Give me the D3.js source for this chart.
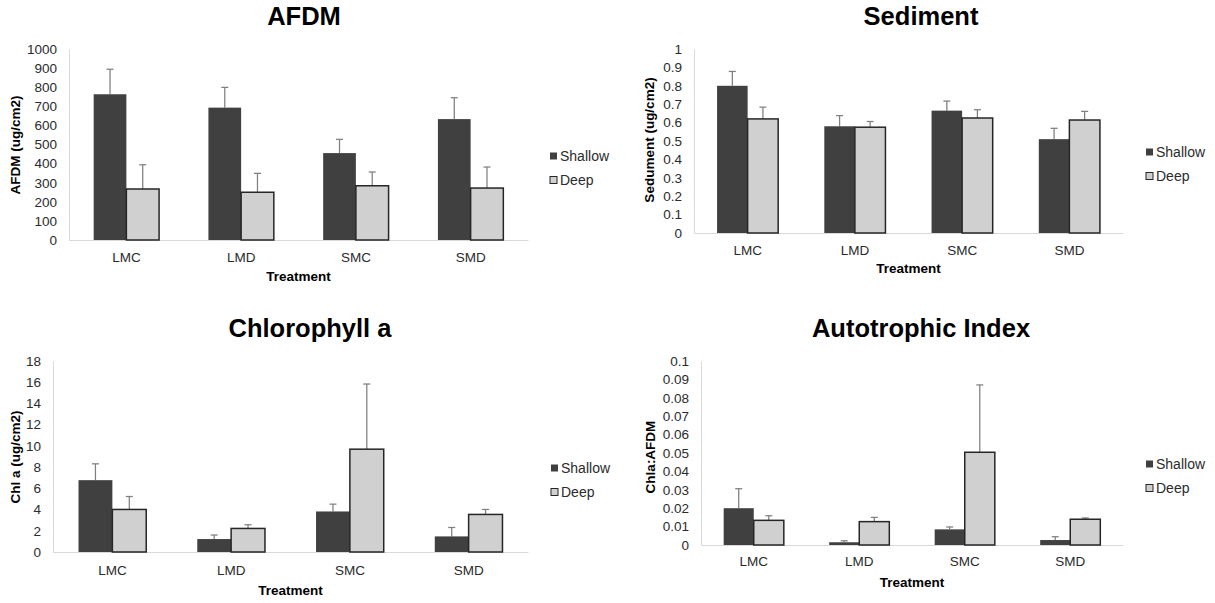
<!DOCTYPE html>
<html>
<head>
<meta charset="utf-8">
<script src="https://cdn.jsdelivr.net/npm/d3@7/dist/d3.min.js"></script>
<style>
  html, body { margin: 0; padding: 0; background: #fff; }
  svg { display: block; font-family: "Liberation Sans", Arial, sans-serif; }
</style>
</head>
<body>
<svg id="chart" width="1215" height="603"></svg>
<script>
// Shared categories and series
const categories = ["LMC", "LMD", "SMC", "SMD"];
const seriesNames = ["Shallow", "Deep"];

// AFDM (ug/cm2): means and upper error lengths
const afdmShallow = [763, 693, 455, 633];
const afdmShallowErr = [131, 106, 72, 112];
const afdmDeep = [267, 250, 284, 272];
const afdmDeepErr = [127, 99, 72, 110];
const afdmTicks = [0, 100, 200, 300, 400, 500, 600, 700, 800, 900, 1000];

// Sediment (ug/cm2)
const sedShallow = [0.80, 0.58, 0.665, 0.51];
const sedShallowErr = [0.078, 0.058, 0.052, 0.059];
const sedDeep = [0.62, 0.575, 0.625, 0.614];
const sedDeepErr = [0.064, 0.031, 0.045, 0.047];
const sedTicks = [0, 0.1, 0.2, 0.3, 0.4, 0.5, 0.6, 0.7, 0.8, 0.9, 1];

// Chlorophyll a (ug/cm2)
const chlShallow = [6.77, 1.22, 3.82, 1.47];
const chlShallowErr = [1.54, 0.38, 0.69, 0.84];
const chlDeep = [4.01, 2.22, 9.69, 3.54];
const chlDeepErr = [1.22, 0.35, 6.14, 0.47];
const chlTicks = [0, 2, 4, 6, 8, 10, 12, 14, 16, 18];

// Autotrophic index (Chla:AFDM)
const aiShallow = [0.020, 0.0015, 0.0085, 0.0027];
const aiShallowErr = [0.0106, 0.0008, 0.0013, 0.0018];
const aiDeep = [0.0134, 0.0127, 0.0504, 0.0140];
const aiDeepErr = [0.0025, 0.0023, 0.0366, 0.0007];
const aiTicks = [0, 0.01, 0.02, 0.03, 0.04, 0.05, 0.06, 0.07, 0.08, 0.09, 0.1];

// Panel layout
const panels = [
  { title: "AFDM", yTitle: "AFDM (ug/cm2)", shallow: afdmShallow, shallowErr: afdmShallowErr,
    deep: afdmDeep, deepErr: afdmDeepErr, ticks: afdmTicks,
    x0: 69, x1: 528, yTop: 49, yBase: 240, titleX: 304, titleY: 25,
    yLabX: 15, yLabY: 145, catY: 262, xTitleY: 281, legX: 550, legY: 156 },
  { title: "Sediment", yTitle: "Sedument (ug/cm2)", shallow: sedShallow, shallowErr: sedShallowErr,
    deep: sedDeep, deepErr: sedDeepErr, ticks: sedTicks,
    x0: 694, x1: 1123, yTop: 49, yBase: 233, titleX: 921, titleY: 25,
    yLabX: 649, yLabY: 140, catY: 255, xTitleY: 273, legX: 1146, legY: 152 },
  { title: "Chlorophyll a", yTitle: "Chl a (ug/cm2)", shallow: chlShallow, shallowErr: chlShallowErr,
    deep: chlDeep, deepErr: chlDeepErr, ticks: chlTicks,
    x0: 53, x1: 528, yTop: 361, yBase: 552, titleX: 310, titleY: 337,
    yLabX: 15, yLabY: 457, catY: 575, xTitleY: 595, legX: 551, legY: 468 },
  { title: "Autotrophic Index", yTitle: "Chla:AFDM", shallow: aiShallow, shallowErr: aiShallowErr,
    deep: aiDeep, deepErr: aiDeepErr, ticks: aiTicks,
    x0: 701, x1: 1123, yTop: 361, yBase: 545, titleX: 921, titleY: 337,
    yLabX: 650, yLabY: 457, catY: 566, xTitleY: 587, legX: 1146, legY: 464 }
];

const colors = { Shallow: "#404040", Deep: "#d0d0d0" };
const textColor = "#2b2b2b";
const axisColor = "#d9d9d9";
const fmt = d => String(+d.toFixed(4));

const svg = d3.select("#chart");

panels.forEach(p => {
  const g = svg.append("g");
  const maxTick = d3.max(p.ticks);

  const x = d3.scaleBand().domain(categories).range([p.x0, p.x1])
    .paddingInner(0.43).paddingOuter(0.215);
  const xs = d3.scaleBand().domain(seriesNames).range([0, x.bandwidth()]);
  const y = d3.scaleLinear().domain([0, maxTick]).range([p.yBase, p.yTop]);

  // Title
  g.append("text").attr("x", p.titleX).attr("y", p.titleY)
    .attr("text-anchor", "middle").attr("font-size", 25.5).attr("font-weight", "bold")
    .attr("fill", "#000").text(p.title);

  // Y axis: labels only, light axis line
  const yAxis = g.append("g").attr("transform", `translate(${p.x0},0)`)
    .call(d3.axisLeft(y).tickValues(p.ticks).tickFormat(fmt).tickSize(0).tickPadding(12));
  yAxis.select(".domain").attr("stroke", axisColor).attr("stroke-width", 1);
  yAxis.selectAll("text").attr("font-size", 13.5).attr("fill", textColor)
    .attr("font-family", "'Liberation Sans', Arial, sans-serif");

  // Category axis
  const xAxis = g.append("g").attr("transform", `translate(0,${p.yBase})`)
    .call(d3.axisBottom(x).tickSize(0).tickPadding(0));
  xAxis.select(".domain").attr("stroke", axisColor).attr("stroke-width", 1);
  xAxis.selectAll("text").attr("font-size", 13.5).attr("fill", textColor)
    .attr("dy", 0).attr("y", p.catY - p.yBase)
    .attr("font-family", "'Liberation Sans', Arial, sans-serif");

  // Axis titles
  g.append("text").attr("x", (p.x0 + p.x1) / 2).attr("y", p.xTitleY)
    .attr("text-anchor", "middle").attr("font-size", 13.5).attr("font-weight", "bold")
    .attr("fill", "#000").text("Treatment");
  g.append("text").attr("transform", `translate(${p.yLabX},${p.yLabY}) rotate(-90)`)
    .attr("text-anchor", "middle").attr("dominant-baseline", "central")
    .attr("font-size", 13.5).attr("font-weight", "bold").attr("fill", "#000").text(p.yTitle);

  // Bars and upper error bars
  const rows = [];
  categories.forEach((c, i) => {
    rows.push({ cat: c, s: "Shallow", v: p.shallow[i], e: p.shallowErr[i] });
    rows.push({ cat: c, s: "Deep", v: p.deep[i], e: p.deepErr[i] });
  });

  const bars = g.append("g");
  bars.selectAll("line.err").data(rows).join("line").attr("class", "err")
    .attr("x1", d => x(d.cat) + xs(d.s) + xs.bandwidth() / 2)
    .attr("x2", d => x(d.cat) + xs(d.s) + xs.bandwidth() / 2)
    .attr("y1", d => y(d.v)).attr("y2", d => y(d.v + d.e))
    .attr("stroke", "#7f7f7f").attr("stroke-width", 1.25);
  bars.selectAll("line.cap").data(rows).join("line").attr("class", "cap")
    .attr("x1", d => x(d.cat) + xs(d.s) + xs.bandwidth() / 2 - 3.5)
    .attr("x2", d => x(d.cat) + xs(d.s) + xs.bandwidth() / 2 + 3.5)
    .attr("y1", d => y(d.v + d.e)).attr("y2", d => y(d.v + d.e))
    .attr("stroke", "#7f7f7f").attr("stroke-width", 1.25);
  bars.selectAll("rect").data(rows).join("rect")
    .attr("x", d => x(d.cat) + xs(d.s))
    .attr("y", d => y(d.v))
    .attr("width", xs.bandwidth())
    .attr("height", d => y(0) - y(d.v))
    .attr("fill", d => colors[d.s])
    .attr("stroke", d => d.s === "Deep" ? "#262626" : "none")
    .attr("stroke-width", 1.5);

  // Legend
  const leg = g.append("g");
  seriesNames.forEach((s, i) => {
    const ly = p.legY + i * 24;
    leg.append("rect").attr("x", p.legX).attr("y", ly - 3.5).attr("width", 7).attr("height", 7)
      .attr("fill", colors[s]).attr("stroke", s === "Deep" ? "#262626" : "none").attr("stroke-width", 1);
    leg.append("text").attr("x", p.legX + 10).attr("y", ly).attr("dominant-baseline", "central")
      .attr("font-size", 14).attr("fill", textColor).text(s);
  });
});
</script>
</body>
</html>
